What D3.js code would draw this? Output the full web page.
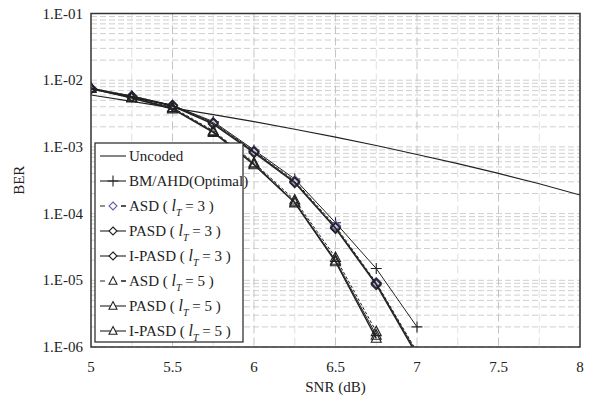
<!DOCTYPE html>
<html>
<head>
<meta charset="utf-8">
<script src="https://cdn.jsdelivr.net/npm/d3@7"></script>
<style>
  body { margin: 0; background: #fff; }
  svg text { font-family: "Liberation Serif", "Times New Roman", serif; fill: #222; }
</style>
</head>
<body>
<svg id="svg" width="596" height="401"></svg>
<script>
// SNR points (dB)
const snrUncoded = [5, 5.25, 5.5, 5.75, 6, 6.25, 6.5, 6.75, 7, 7.25, 7.5, 7.75, 8];
const berUncoded = [6.0e-3, 4.8e-3, 3.85e-3, 3.05e-3, 2.4e-3, 1.84e-3, 1.4e-3, 1.05e-3, 7.7e-4, 5.6e-4, 4.0e-4, 2.8e-4, 1.9e-4];

const snrCoded = [5, 5.25, 5.5, 5.75, 6, 6.25, 6.5, 6.75, 7];
const berBMAHD   = [7.5e-3, 5.8e-3, 4.2e-3, 2.4e-3, 9.0e-4, 3.3e-4, 7.3e-5, 1.5e-5, 2.0e-6];
const berASD3    = [7.6e-3, 5.8e-3, 4.2e-3, 2.3e-3, 8.7e-4, 3.1e-4, 6.5e-5, 9.2e-6, 8.5e-7];
const berPASD3   = [7.5e-3, 5.7e-3, 4.2e-3, 2.3e-3, 8.5e-4, 3.0e-4, 6.2e-5, 9.0e-6, 8.0e-7];
const berIPASD3  = [7.4e-3, 5.6e-3, 4.1e-3, 2.2e-3, 8.2e-4, 2.9e-4, 6.0e-5, 8.6e-6, 7.5e-7];
const snrL5 = [5, 5.25, 5.5, 5.75, 6, 6.25, 6.5, 6.75];
const berASD5    = [7.7e-3, 5.6e-3, 3.9e-3, 1.75e-3, 5.8e-4, 1.6e-4, 2.2e-5, 1.7e-6];
const berPASD5   = [7.6e-3, 5.5e-3, 3.8e-3, 1.7e-3, 5.6e-4, 1.5e-4, 2.0e-5, 1.5e-6];
const berIPASD5  = [7.5e-3, 5.4e-3, 3.7e-3, 1.65e-3, 5.4e-4, 1.45e-4, 1.9e-5, 1.35e-6];

const xTicks = [5, 5.5, 6, 6.5, 7, 7.5, 8];
const yTicks = [1e-6, 1e-5, 1e-4, 1e-3, 1e-2, 1e-1];
const yTickLabels = ["1.E-06", "1.E-05", "1.E-04", "1.E-03", "1.E-02", "1.E-01"];

// series: name, x, y, marker, dashed, color, width
const series = [
  { name: "Uncoded", x: snrUncoded, y: berUncoded, marker: "none", dash: false, color: "#222", w: 1.2 },
  { name: "BM/AHD(Optimal)", x: snrCoded, y: berBMAHD, marker: "plus", dash: false, color: "#222", w: 1.0 },
  { name: "ASD", l: 3, x: snrCoded, y: berASD3, marker: "diamond", dash: true, color: "#6a60a8", w: 1.0 },
  { name: "PASD", l: 3, x: snrCoded, y: berPASD3, marker: "diamond", dash: false, color: "#222", w: 1.0 },
  { name: "I-PASD", l: 3, x: snrCoded, y: berIPASD3, marker: "diamond", dash: false, color: "#222", w: 1.4 },
  { name: "ASD", l: 5, x: snrL5, y: berASD5, marker: "triangle", dash: true, color: "#222", w: 1.0 },
  { name: "PASD", l: 5, x: snrL5, y: berPASD5, marker: "triangle", dash: false, color: "#222", w: 1.0 },
  { name: "I-PASD", l: 5, x: snrL5, y: berIPASD5, marker: "triangle", dash: false, color: "#222", w: 1.4 }
];

var svg = d3.select("#svg"),
    margin = { left: 91, right: 16, top: 13.5, bottom: 54 },
    width = +svg.attr("width") - margin.left - margin.right,
    height = +svg.attr("height") - margin.top - margin.bottom;

let x = d3.scaleLinear().domain([5, 8]).range([margin.left, margin.left + width]);
let y = d3.scaleLog().domain([1e-6, 1e-1]).range([margin.top + height, margin.top]);

svg.append("defs").append("clipPath")
    .attr("id", "clip")
  .append("rect")
    .attr("x", margin.left)
    .attr("y", margin.top)
    .attr("width", width)
    .attr("height", height);

// grid - horizontal dashed at every 1..9 x 10^k
let hGrid = [];
for (let e = -6; e < -1; e++) for (let m = 1; m < 10; m++) hGrid.push(m * Math.pow(10, e));
hGrid.push(1e-1);
svg.append("g").selectAll("line").data(hGrid).join("line")
    .attr("x1", margin.left).attr("x2", margin.left + width)
    .attr("y1", d => y(d)).attr("y2", d => y(d))
    .style("stroke", "#cfcfcf").style("stroke-width", 1)
    .style("stroke-dasharray", "6,3");

// vertical grid every 0.25 dB
let vGrid = d3.range(5.25, 8, 0.25);
svg.append("g").selectAll("line").data(vGrid).join("line")
    .attr("x1", d => x(d)).attr("x2", d => x(d))
    .attr("y1", margin.top).attr("y2", margin.top + height)
    .style("stroke", (d, i) => i % 2 === 1 ? "#c4c4c4" : "#e0e0e0")
    .style("stroke-width", 1)
    .style("stroke-dasharray", "8,4");

// markers
function markerPath(type, s) {
  if (type === "diamond") return `M0,${-s}L${s},0L0,${s}L${-s},0Z`;
  if (type === "triangle") return `M0,${-s * 1.1}L${s},${s * 0.8}L${-s},${s * 0.8}Z`;
  if (type === "plus") return `M${-s},0H${s}M0,${-s}V${s}`;
  return "";
}

let line = d3.line().x(d => x(d[0])).y(d => y(d[1]));
let plotG = svg.append("g").attr("clip-path", "url(#clip)");

series.forEach(s => {
  let pts = s.x.map((v, i) => [v, s.y[i]]);
  plotG.append("path")
      .attr("d", line(pts))
      .style("fill", "none")
      .style("stroke", "#222")
      .style("stroke-width", s.w)
      .style("stroke-dasharray", s.dash ? "3,2" : null);
  if (s.marker !== "none") {
    plotG.selectAll(null).data(pts).join("path")
        .attr("transform", d => `translate(${x(d[0])},${y(d[1])})`)
        .attr("d", markerPath(s.marker, s.marker === "plus" ? 5.5 : 5))
        .style("fill", s.marker === "plus" ? "none" : (s.color === "#222" ? "none" : "#c9c3e6"))
        .style("stroke", s.color)
        .style("stroke-width", s.color === "#222" ? 1.1 : 1.3);
  }
});

// frame
svg.append("rect")
    .attr("x", margin.left).attr("y", margin.top)
    .attr("width", width).attr("height", height)
    .style("fill", "none").style("stroke", "#333").style("stroke-width", 1.5);

// tick labels
svg.append("g").selectAll("text").data(yTicks).join("text")
    .attr("x", margin.left - 8)
    .attr("y", d => y(d) + 5)
    .attr("text-anchor", "end")
    .style("font-size", "15px")
    .text((d, i) => yTickLabels[i]);

svg.append("g").selectAll("text").data(xTicks).join("text")
    .attr("x", d => x(d))
    .attr("y", margin.top + height + 25)
    .attr("text-anchor", "middle")
    .style("font-size", "15px")
    .text(d => d);

svg.append("text")
    .attr("transform", `translate(24,${margin.top + height / 2}) rotate(-90)`)
    .attr("text-anchor", "middle")
    .style("font-size", "15px")
    .text("BER");

svg.append("text")
    .attr("x", x(6.5))
    .attr("y", margin.top + height + 45)
    .attr("text-anchor", "middle")
    .style("font-size", "15px")
    .text("SNR (dB)");

// legend
let lg = svg.append("g");
lg.append("rect")
    .attr("x", 95).attr("y", 143)
    .attr("width", 148).attr("height", 199)
    .style("fill", "#fff").style("stroke", "#222").style("stroke-width", 1.2);

series.forEach((s, i) => {
  let ly = 156 + i * 25;
  lg.append("line")
      .attr("x1", 100).attr("x2", 126).attr("y1", ly).attr("y2", ly)
      .style("stroke", "#222").style("stroke-width", 1.1)
      .style("stroke-dasharray", s.dash ? "5,16" : null)
      .style("stroke-dashoffset", 0);
  if (s.dash) {
    lg.append("line")
        .attr("x1", 121).attr("x2", 126).attr("y1", ly).attr("y2", ly)
        .style("stroke", "#222").style("stroke-width", 1.1);
  }
  if (s.marker !== "none") {
    lg.append("path")
        .attr("transform", `translate(113,${ly})`)
        .attr("d", markerPath(s.marker, s.marker === "plus" ? 5.5 : 4))
        .style("fill", s.marker === "plus" ? "none" : "#fff")
        .style("stroke", s.color)
        .style("stroke-width", 1.1);
  }
  let t = lg.append("text")
      .attr("x", 129).attr("y", ly + 5)
      .style("font-size", "15px");
  if (s.l === undefined) {
    t.text(s.name);
  } else {
    t.append("tspan").text(s.name + " ( ");
    t.append("tspan").style("font-style", "italic").style("font-size", "16px").text("l");
    t.append("tspan").style("font-style", "italic").style("font-size", "10px").attr("dy", 5).text("T");
    t.append("tspan").attr("dy", -5).text(" = " + s.l + " )");
  }
});
</script>
</body>
</html>
